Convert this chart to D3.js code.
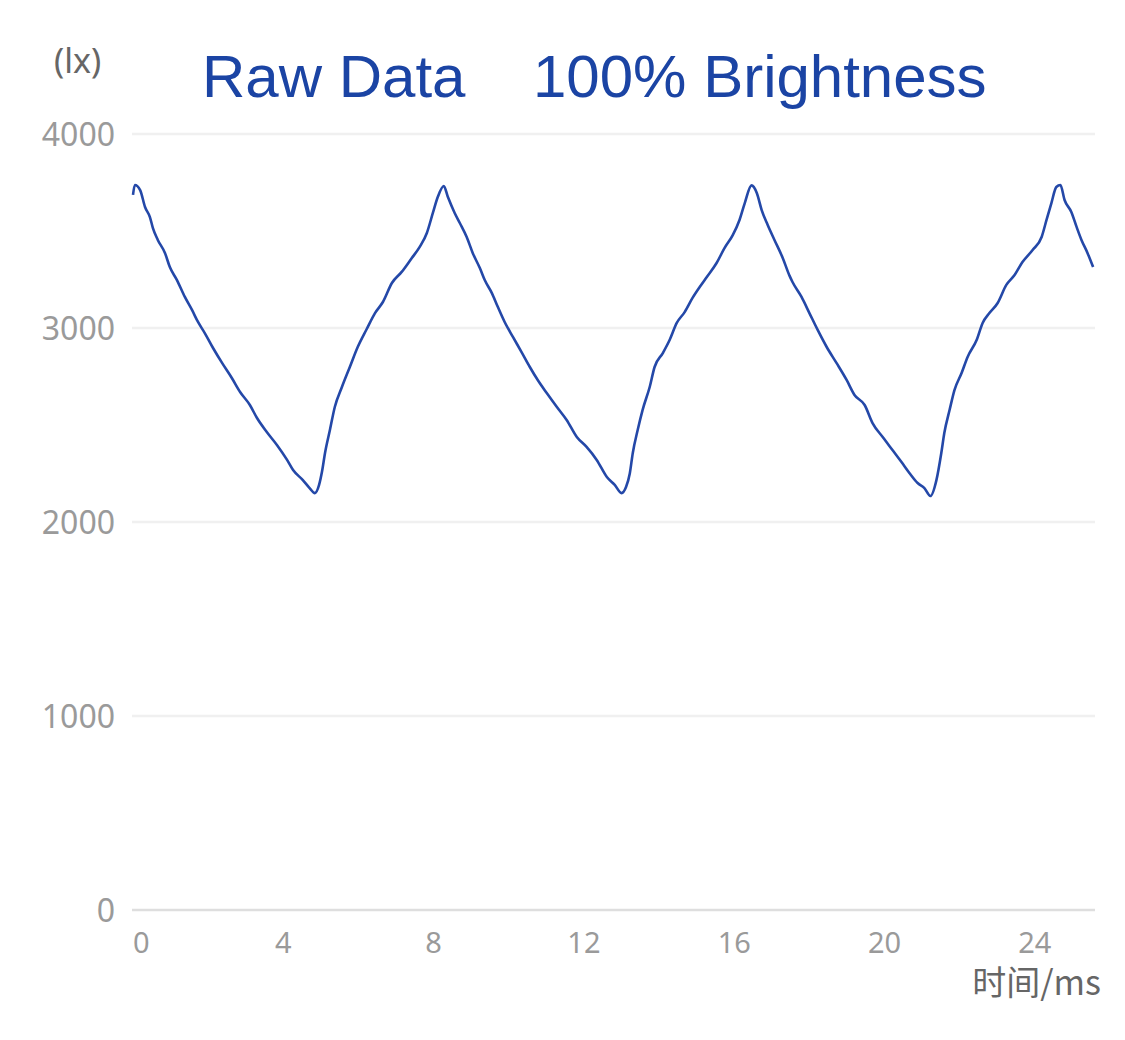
<!DOCTYPE html>
<html>
<head>
<meta charset="utf-8">
<script src="https://cdn.jsdelivr.net/npm/d3@7"></script>
<style>
  html, body { margin: 0; padding: 0; background: #fff; }
  svg { display: block; }
</style>
</head>
<body>
<div id="app"></div>
<script>
// time in ms, illuminance in lx
const timeMs = [
  0, 0.05, 0.19, 0.32, 0.45, 0.53, 0.66, 0.85, 0.98, 1.17, 1.38, 1.57, 1.73, 1.91, 2.13, 2.37, 2.63, 2.85,
  3.11, 3.30, 3.56, 3.83, 4.10, 4.26, 4.52, 4.70, 4.84,
  4.95, 5.03, 5.11, 5.24, 5.37, 5.56, 5.77, 5.98, 6.22, 6.44, 6.65, 6.89, 7.15, 7.42, 7.63, 7.82, 7.98, 8.11, 8.27,
  8.38, 8.56, 8.70, 8.88, 9.04, 9.23, 9.36, 9.55, 9.71, 9.89, 10.11, 10.34, 10.56, 10.77, 11.01, 11.28, 11.54,
  11.81, 12.07, 12.34, 12.61, 12.82, 13.0,
  13.12, 13.22, 13.30, 13.43, 13.56, 13.75, 13.88, 14.10, 14.28, 14.47, 14.68, 14.89, 15.08, 15.27, 15.53, 15.74,
  15.96, 16.14, 16.28, 16.46,
  16.60, 16.73, 16.89, 17.07, 17.29, 17.47, 17.55, 17.79, 18.0, 18.22, 18.46, 18.72, 18.99, 19.20, 19.47, 19.68,
  19.95, 20.21, 20.45, 20.66, 20.88, 21.06, 21.22,
  21.38, 21.51, 21.59, 21.73, 21.86, 22.05, 22.21, 22.45, 22.61, 22.79, 23.01, 23.24, 23.46, 23.67, 23.94, 24.18,
  24.31, 24.44, 24.57, 24.68,
  24.79, 24.97, 25.11, 25.24, 25.40, 25.55
];
const lux = [
  3686, 3737, 3711, 3624, 3572, 3515, 3454, 3387, 3314, 3247, 3160, 3093, 3031, 2974, 2897, 2820, 2742, 2670,
  2603, 2536, 2464, 2397, 2320, 2268, 2216, 2175, 2149,
  2190, 2260, 2356, 2474, 2593, 2696, 2799, 2902, 2995, 3077, 3134, 3232, 3289, 3361, 3418, 3490, 3593, 3675, 3732,
  3675, 3593, 3540, 3469, 3387, 3309, 3247, 3180, 3108, 3031, 2954, 2876, 2799, 2732, 2665, 2593, 2526,
  2438, 2387, 2320, 2232, 2191, 2149,
  2180, 2250, 2356, 2474, 2577, 2696, 2799, 2871, 2938, 3026, 3082, 3155, 3211, 3263, 3335, 3412,
  3479, 3557, 3644, 3735,
  3696, 3608, 3531, 3454, 3361, 3270, 3237, 3160, 3077, 2990, 2902, 2820, 2732, 2655, 2603, 2510,
  2438, 2371, 2309, 2253, 2201, 2175, 2134,
  2216, 2356, 2459, 2577, 2680, 2768, 2851, 2938, 3026, 3077, 3129, 3222, 3273, 3340, 3402, 3469,
  3557, 3644, 3727, 3737,
  3660, 3598, 3521, 3454, 3387, 3314
];
const xTicks = [0, 4, 8, 12, 16, 20, 24];
const yTicks = [0, 1000, 2000, 3000, 4000];
const titleLeft = 'Raw Data';
const titleRight = '100% Brightness';

const W = 1125, H = 1040;
const svg = d3.select('#app').append('svg').attr('width', W).attr('height', H);

const x = d3.scaleLinear().domain([0, 25.6]).range([133, 1095]);
const y = d3.scaleLinear().domain([0, 4000]).range([910, 134]);

// grid
svg.selectAll('line.grid')
  .data(yTicks.filter(d => d > 0))
  .enter().append('line')
  .attr('class', 'grid')
  .attr('x1', 132).attr('x2', 1095)
  .attr('y1', d => y(d)).attr('y2', d => y(d))
  .attr('stroke', '#f0f0f0').attr('stroke-width', 2.5);

svg.append('line')
  .attr('x1', 132).attr('x2', 1095)
  .attr('y1', y(0)).attr('y2', y(0))
  .attr('stroke', '#dedede').attr('stroke-width', 2.5);

// y labels
svg.selectAll('text.ylab')
  .data(yTicks)
  .enter().append('text')
  .attr('class', 'ylab')
  .attr('x', 115)
  .attr('y', d => y(d))
  .attr('dy', '0.36em')
  .attr('text-anchor', 'end')
  .attr('font-family', 'Noto Sans, sans-serif')
  .attr('font-size', 32)
  .attr('fill', '#9a9a9a')
  .text(d => d);

// x labels
svg.selectAll('text.xlab')
  .data(xTicks)
  .enter().append('text')
  .attr('class', 'xlab')
  .attr('x', d => x(d))
  .attr('y', 953)
  .attr('text-anchor', d => d === 0 ? 'start' : 'middle')
  .attr('font-family', 'Noto Sans, sans-serif')
  .attr('font-size', 29)
  .attr('fill', '#9a9a9a')
  .text(d => d);

// unit labels
svg.append('text')
  .attr('x', 54).attr('y', 73)
  .attr('font-family', 'Noto Sans, sans-serif')
  .attr('font-size', 34)
  .attr('fill', '#666')
  .text('(lx)');

svg.append('text')
  .attr('x', 1101).attr('y', 995)
  .attr('text-anchor', 'end')
  .attr('font-family', 'Noto Sans CJK SC, Noto Sans, sans-serif')
  .attr('font-size', 34)
  .attr('fill', '#666')
  .text('时间/ms');

// title
svg.append('text')
  .attr('x', 202).attr('y', 97)
  .attr('font-family', 'Liberation Sans, Arial, sans-serif')
  .attr('font-size', 60)
  .attr('fill', '#1b44a4')
  .text(titleLeft);

svg.append('text')
  .attr('x', 533).attr('y', 97)
  .attr('font-family', 'Liberation Sans, Arial, sans-serif')
  .attr('font-size', 60)
  .attr('fill', '#1b44a4')
  .text(titleRight);

// line
const pts = timeMs.map((t, i) => [t, lux[i]]);
const line = d3.line()
  .x(d => x(d[0]))
  .y(d => y(d[1]))
  .curve(d3.curveMonotoneX);

svg.append('path')
  .datum(pts)
  .attr('d', line)
  .attr('fill', 'none')
  .attr('stroke', '#2448a8')
  .attr('stroke-width', 2.6)
  .attr('stroke-linejoin', 'round');
</script>
</body>
</html>
